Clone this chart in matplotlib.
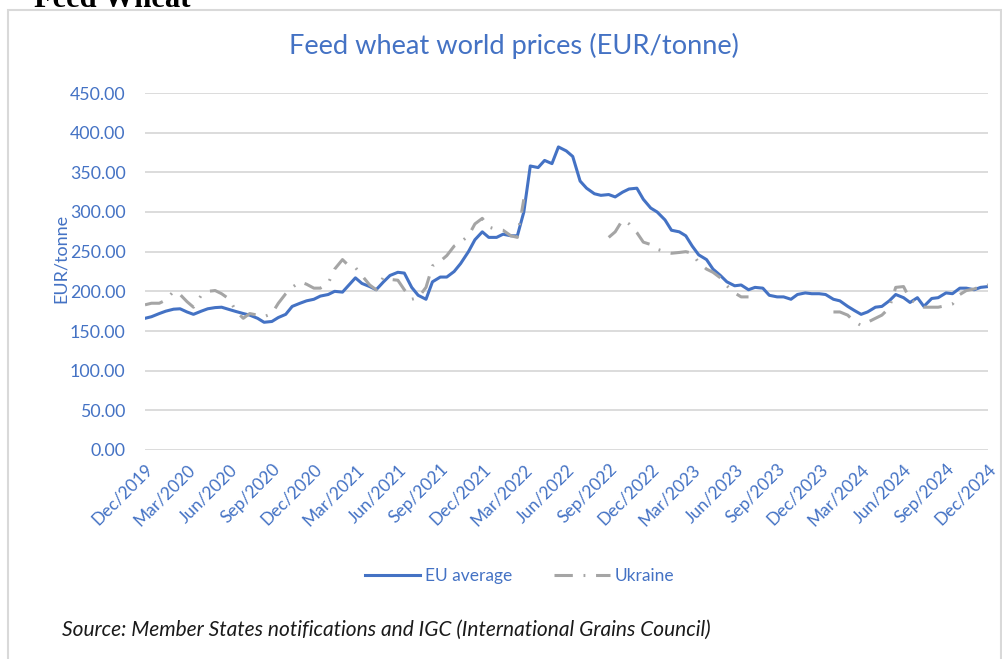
import numpy as np
import pandas as pd
import matplotlib
matplotlib.use("Agg")
import matplotlib.pyplot as plt
from matplotlib.patches import Rectangle

nan = np.nan

# semi-monthly readings, Dec 2019 -> Dec 2024
dates = pd.date_range("2019-12-01", "2024-12-01", freq="SMS")

eu_average = [
    166, 168, 172, 175, 177.5, 178, 174, 171, 175, 178,
    179.5, 180, 177, 174.6, 172, 170, 166, 161, 162, 167,
    171, 181, 185, 188, 190, 194, 196, 200, 199, 208,
    217, 210, 206, 202, 212, 220, 224, 223, 205, 195,
    190, 212, 218, 218, 225, 235, 250, 265, 275, 268,
    268, 272, 270, 270, 300, 358, 356, 365, 361, 382,
    377, 370, 339, 330, 323, 321, 322, 319, 325, 329,
    330, 316, 305, 300, 290, 277, 275, 270, 257, 246,
    240, 228, 220, 212, 207, 208, 202, 205, 204, 195,
    193, 193, 190, 196, 198, 197, 197, 196, 190, 188,
    181, 176, 171, 174, 180, 181, 188, 196, 192, 186,
    192, 181, 191, 192, 198, 197, 204, 204, 202, 205,
    206,
]

ukraine = [
    183, 185, 185, 189, 200, 196, 187, 180, 195, 200,
    201, 197, 190, 175, 166, 172, 170, 168, 172, 185,
    197, 205, 212, 209, 204, 204, 210, 228, 240, 232,
    230, 220, 208, 202, 218, 215, 214, 202, 190, 192,
    205, 232, 238, 245, 257, 262, 270, 285, 292, 281,
    278, 277, 270, 268, 316, nan, nan, nan, nan, nan,
    nan, nan, nan, nan, nan, nan, 268, 275, 290, 285,
    274, 262, 259, 253, 250, 248, 249, 250, 248, 236,
    228, 224, 217, 207, 198, 193, 193, nan, nan, nan,
    nan, nan, nan, nan, nan, nan, nan, nan, 174, 174,
    170, 162, 157, 161, 166, 170, 179, 205, 206, 190,
    184, 180, 180, 180, 182, 184, 196, 201, 203, 206,
    208,
]

tick_dates = pd.date_range("2019-12-01", "2024-12-01", freq="3MS")
tick_labels = [d.strftime("%b/%Y") for d in tick_dates]
y_ticks = np.arange(0, 451, 50)

blue = "#4472c4"
grey = "#a5a5a5"
plt.rcParams["font.family"] = ["Lato", "DejaVu Sans"]

fig = plt.figure(figsize=(10.03, 6.59), dpi=100)
ax = fig.add_axes([145 / 1003, 1 - 450 / 659, (988 - 145) / 1003, (450 - 93) / 659])

ax.plot(dates, eu_average, color=blue, lw=2.2, label="EU average", zorder=3)
ax.plot(dates, ukraine, color=grey, lw=2.2, dashes=(6, 3.5, 0.6, 3.5), label="Ukraine", zorder=4)

ax.set_xlim(dates[0], dates[-1])
ax.set_ylim(0, 450)
ax.set_yticks(y_ticks)
ax.set_yticklabels([f"{v:.2f}" for v in y_ticks], color=blue, fontsize=12.8)
ax.set_xticks(tick_dates)
ax.set_xticklabels(tick_labels, rotation=45, ha="right", rotation_mode="anchor",
                   color=blue, fontsize=12.5)
ax.tick_params(length=0, pad=14)
ax.tick_params(axis="x", pad=8)
ax.grid(axis="y", color="#d9d9d9", lw=1.3)
ax.set_axisbelow(True)
for s in ax.spines.values():
    s.set_visible(False)

fig.text(61 / 1003, 1 - 258 / 659, "EUR/tonne", color=blue, fontsize=13,
         rotation=90, ha="center", va="center")

fig.text(0.512, 1 - 46 / 659, "Feed wheat world prices (EUR/tonne)", color=blue,
         fontsize=19.6, ha="center", va="center")

leg = fig.legend(loc="center", bbox_to_anchor=(0.518, 1 - 576 / 659), ncol=2,
                 frameon=False, fontsize=12.5, handlelength=3.2, handletextpad=0.3,
                 columnspacing=2.4)
for t in leg.get_texts():
    t.set_color(blue)

fig.text(62 / 1003, 1 - 630 / 659,
         "Source: Member States notifications and IGC (International Grains Council)",
         fontsize=15, style="italic", color="#1a1a1a", va="center")

# cut-off heading above the chart box
fig.text(34 / 1003, 1 - 7 / 659, "Feed Wheat", family="Liberation Serif",
         fontsize=22, weight="bold", va="baseline", color="black")

fig.add_artist(Rectangle((8 / 1003, -0.01), 993 / 1003, 1 - 10 / 659 + 0.01,
                         transform=fig.transFigure, fill=False,
                         edgecolor="#d9d9d9", lw=1.5))

fig.savefig("out.png", dpi=100)
